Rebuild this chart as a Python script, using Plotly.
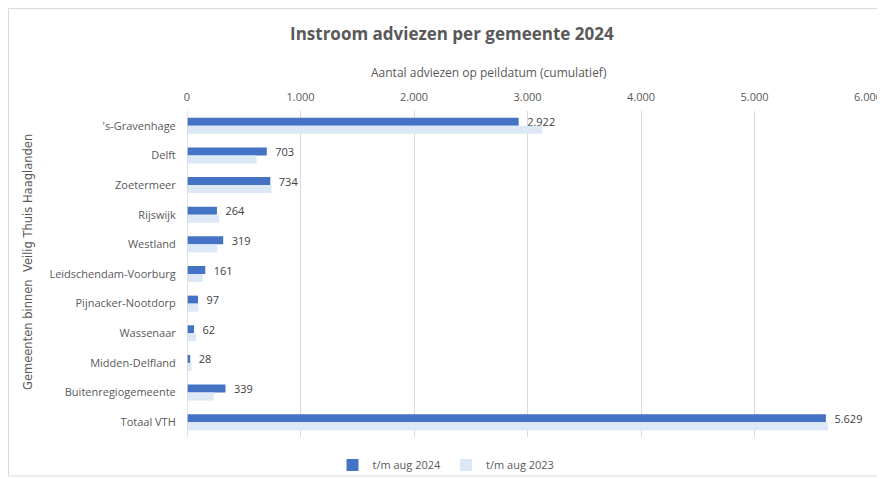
import plotly.graph_objects as go

categories = ["'s-Gravenhage", "Delft", "Zoetermeer", "Rijswijk", "Westland",
              "Leidschendam-Voorburg", "Pijnacker-Nootdorp", "Wassenaar",
              "Midden-Delfland", "Buitenregiogemeente", "Totaal VTH"]
values_2024 = [2922, 703, 734, 264, 319, 161, 97, 62, 28, 339, 5629]
values_2023 = [3130, 613, 745, 282, 267, 138, 100, 79, 41, 235, 5646]
x_ticks = [0, 1000, 2000, 3000, 4000, 5000, 6000]

# page offset of the figure inside the browser (body margin)
OFF = 8
W, H = 885 - OFF, 479 - OFF
# plot area in screen pixels: x 187..868, y 111..437
L, R = 187 - OFF, W - (868 - OFF)
T, B = 111 - OFF, H - (437 - OFF)
pw, ph = W - L - R, H - T - B

def px_x(x):
    return (x - OFF - L) / pw

def px_y(y):
    return (H - B - (y - OFF)) / ph

font_family = "Open Sans, Noto Sans, sans-serif"
gray = "#595959"

fig = go.Figure()
fig.add_trace(go.Bar(
    y=categories, x=values_2024, orientation="h", name="t/m aug 2024",
    marker=dict(color="#4472C4", line=dict(width=0)),
    text=["\u2002" + f"{v:,}".replace(",", ".") for v in values_2024],
    textposition="outside", constraintext="none",
    textfont=dict(size=11, color="#404040", family=font_family),
    cliponaxis=False,
))
fig.add_trace(go.Bar(
    y=categories, x=values_2023, orientation="h", name="t/m aug 2023",
    marker=dict(color="#DCE8F6", line=dict(width=0)),
))

fig.update_layout(
    width=W, height=H,
    margin=dict(l=L, r=R, t=T, b=B, autoexpand=False),
    paper_bgcolor="white", plot_bgcolor="white",
    separators=",.",
    barmode="group", bargap=0.46, bargroupgap=0,
    font=dict(family=font_family, size=11, color=gray),
    showlegend=True,
    legend=dict(orientation="h", x=px_x(446), y=px_y(465), xanchor="center", yanchor="middle",
                font=dict(size=11, color=gray), itemwidth=30, traceorder="normal",
                bgcolor="rgba(0,0,0,0)"),
    xaxis=dict(side="top", range=[0, 6000], tickvals=x_ticks, tickformat=",d",
               showgrid=True, gridcolor="#D9D9D9", gridwidth=1, zeroline=False,
               showline=False, ticks="outside", ticklen=5, tickcolor="rgba(0,0,0,0)",
               tickfont=dict(size=11, color=gray), automargin=False),
    yaxis=dict(autorange="reversed", showgrid=False, showline=False, ticks="outside",
               ticklen=8, tickcolor="rgba(0,0,0,0)", tickfont=dict(size=11, color=gray),
               automargin=False),
    annotations=[
        dict(text="<b>Instroom adviezen per gemeente 2024</b>", xref="paper", yref="paper",
             x=px_x(452), y=px_y(33), xanchor="center", yanchor="middle", showarrow=False,
             font=dict(size=17, color=gray, family=font_family)),
        dict(text="Aantal adviezen op peildatum (cumulatief)", xref="paper", yref="paper",
             x=px_x(489), y=px_y(72), xanchor="center", yanchor="middle", showarrow=False,
             font=dict(size=12, color=gray, family=font_family)),
        dict(text="Gemeenten binnen  Veilig Thuis Haaglanden", xref="paper", yref="paper",
             x=px_x(28), y=px_y(262), xanchor="center", yanchor="middle", showarrow=False,
             textangle=-90, font=dict(size=11.5, color=gray, family="DejaVu Sans, sans-serif")),
    ],
    shapes=[
        dict(type="line", xref="x", yref="paper", x0=0, x1=0, y0=0, y1=1,
             line=dict(color="#D9D9D9", width=1.5)),
        dict(type="rect", xref="paper", yref="paper",
             x0=px_x(OFF + 0.5), x1=px_x(880), y0=px_y(476), y1=px_y(OFF + 0.5),
             line=dict(color="#D9D9D9", width=1), layer="below"),
    ],
)

fig.write_html("out.html")
